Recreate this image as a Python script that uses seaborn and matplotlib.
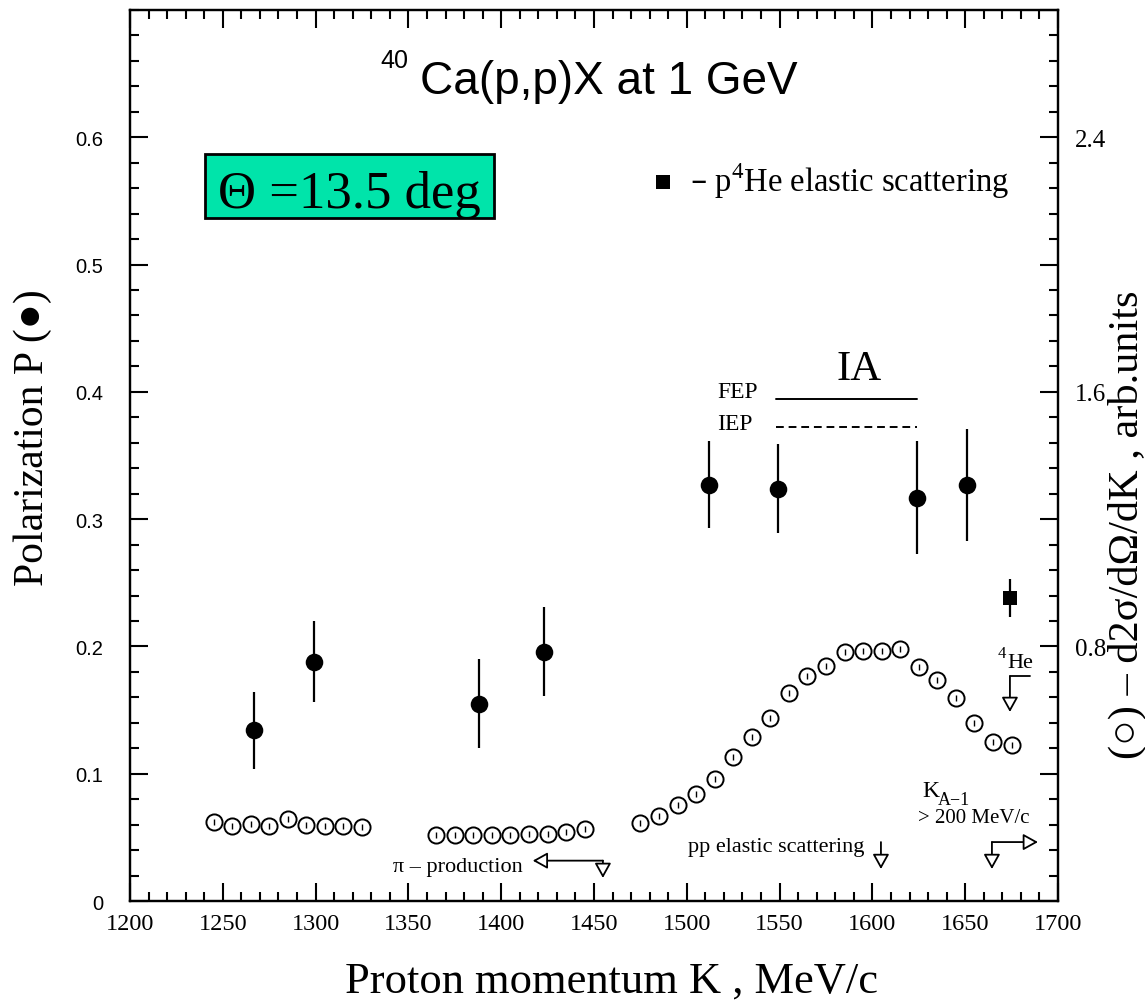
import matplotlib
matplotlib.use("Agg")
import matplotlib.pyplot as plt
import pandas as pd
import seaborn as sns
from matplotlib.ticker import MultipleLocator, FixedLocator, FuncFormatter
from matplotlib.patches import Rectangle

# ---- polarization P (filled circles, left axis) ----
pol_k = [1267, 1299, 1388, 1423, 1512, 1549, 1624, 1651]
pol = [0.134, 0.188, 0.155, 0.196, 0.327, 0.324, 0.317, 0.327]
pol_err = [0.030, 0.032, 0.035, 0.035, 0.034, 0.035, 0.044, 0.044]

# ---- p-4He elastic scattering point (filled square) ----
he_k = [1674]
he_pol = [0.238]
he_err = [0.015]

# ---- cross section d2sigma/dOmega/dK (open circles, right axis) ----
xs_k = [1245, 1255, 1265, 1275, 1285, 1295, 1305, 1315, 1325,
        1365, 1375, 1385, 1395, 1405, 1415, 1425, 1435, 1445,
        1475, 1485, 1495, 1505, 1515, 1525, 1535, 1545, 1555, 1565,
        1575, 1585, 1595, 1605, 1615, 1625, 1635, 1645, 1655, 1665, 1675]
xs = [0.247, 0.237, 0.242, 0.237, 0.258, 0.239, 0.237, 0.235, 0.232,
      0.207, 0.207, 0.207, 0.207, 0.207, 0.210, 0.210, 0.216, 0.226,
      0.245, 0.268, 0.302, 0.336, 0.383, 0.452, 0.514, 0.574, 0.653, 0.708,
      0.739, 0.783, 0.786, 0.786, 0.792, 0.734, 0.695, 0.638, 0.558, 0.499, 0.491]

# ---- IA band (FEP / IEP) ----
ia_range = [1548, 1624]
fep_level = 0.394
iep_level = 0.372

x_ticks = [1200, 1250, 1300, 1350, 1400, 1450, 1500, 1550, 1600, 1650, 1700]
y_ticks = [0, 0.1, 0.2, 0.3, 0.4, 0.5, 0.6]
y2_labels = [0.8, 1.6, 2.4]

sns.set_theme(style="ticks")
plt.rcParams["font.family"] = ["Liberation Serif", "DejaVu Serif"]
plt.rcParams["axes.linewidth"] = 1.6
for key in ("text.color", "axes.labelcolor", "xtick.color", "ytick.color", "axes.edgecolor"):
    plt.rcParams[key] = "black"

W, H = 1145, 1003
fig = plt.figure(figsize=(W / 100, H / 100), dpi=100)
ax = fig.add_axes([130 / W, 1 - 902 / H, 928 / W, 891 / H])
ax2 = ax.twinx()

ax.set_xlim(1200, 1700)
ax.set_ylim(0, 0.7)
ax2.set_ylim(0, 2.8)

# ticks
ax.xaxis.set_major_locator(FixedLocator(x_ticks))
ax.xaxis.set_minor_locator(MultipleLocator(10))
ax.yaxis.set_major_locator(FixedLocator(y_ticks))
ax.yaxis.set_minor_locator(MultipleLocator(0.02))
ax.yaxis.set_major_formatter(FuncFormatter(lambda v, p: "0" if abs(v) < 1e-9 else f"{v:.1f}"))
ax.xaxis.set_major_formatter(FuncFormatter(lambda v, p: f"{int(round(v))}"))
ax.tick_params(axis="both", which="major", direction="in", length=13, width=1.5,
               top=True, right=False, color="black", labelcolor="black")
ax.tick_params(axis="both", which="minor", direction="in", length=6.5, width=1.5,
               top=True, right=False, color="black")
ax.tick_params(axis="y", which="major", pad=19)
ax.tick_params(axis="x", which="major", pad=9)
for lab in ax.get_yticklabels():
    lab.set_fontfamily("Liberation Sans")
    lab.set_fontsize(14.5)
for lab in ax.get_xticklabels():
    lab.set_fontfamily("Liberation Serif")
    lab.set_fontsize(17.5)

ax2.yaxis.set_major_locator(MultipleLocator(0.4))
ax2.yaxis.set_minor_locator(MultipleLocator(0.08))
ax2.yaxis.set_major_formatter(FuncFormatter(
    lambda v, p: f"{v:.1f}" if any(abs(v - t) < 1e-6 for t in y2_labels) else ""))
ax2.tick_params(axis="y", which="major", direction="in", length=13, width=1.5, pad=12,
                labelsize=18, color="black", labelcolor="black")
ax2.tick_params(axis="y", which="minor", direction="in", length=6.5, width=1.5, color="black")

for a in (ax, ax2):
    for s in a.spines.values():
        s.set_visible(True)
        s.set_color("black")
        s.set_linewidth(1.6)

# ---- data ----
df_pol = pd.DataFrame({"K": pol_k, "P": pol})
df_he = pd.DataFrame({"K": he_k, "P": he_pol})
df_xs = pd.DataFrame({"K": xs_k, "S": xs})

ax.errorbar(pol_k, pol, yerr=pol_err, fmt="none", ecolor="black", elinewidth=1.6, capsize=0, zorder=3)
sns.scatterplot(data=df_pol, x="K", y="P", ax=ax, color="black", marker="o", s=160,
                linewidth=0, legend=False, zorder=4)
ax.errorbar(he_k, he_pol, yerr=he_err, fmt="none", ecolor="black", elinewidth=1.6, capsize=0, zorder=3)
sns.scatterplot(data=df_he, x="K", y="P", ax=ax, color="black", marker="s", s=110,
                linewidth=0, legend=False, zorder=4)

sns.scatterplot(data=df_xs, x="K", y="S", ax=ax2, marker="o", s=135, facecolor="white",
                edgecolor="black", linewidth=1.4, legend=False, zorder=4)
ax2.scatter(xs_k, xs, marker="|", s=14, color="black", linewidths=1.0, zorder=5)

ax.set_xlabel("")
ax.set_ylabel("")
ax2.set_ylabel("")

# IA lines
ax.plot(ia_range, [fep_level, fep_level], color="black", lw=1.4, zorder=3)
ax.plot(ia_range, [iep_level, iep_level], color="black", lw=1.4, ls=(0, (4, 2.5)), zorder=3)
ax.text(1580.9, 0.410, "IA", fontsize=31, ha="left", va="baseline")
ax.text(1516.3, 0.396, "FEP", fontsize=17, ha="left", va="baseline")
ax.text(1516.3, 0.371, "IEP", fontsize=17, ha="left", va="baseline")

# title
ax.text(1356.3, 0.6347, "Ca(p,p)X at 1 GeV", fontsize=33, family="Liberation Sans",
        ha="left", va="baseline")
ax.text(1335.0, 0.655, "40", fontsize=18, family="Liberation Sans", ha="left", va="baseline")

# angle box
ax.add_patch(Rectangle((1240.4, 0.5365), 1396.1 - 1240.4, 0.5868 - 0.5365,
                       facecolor="#00E4AA", edgecolor="black", lw=2, zorder=5))
ax.text(1318.3, 0.5452, "\u0398 =13.5 deg", fontsize=38, ha="center", va="baseline", zorder=6)

# legend entry
ax.scatter([1487.2], [0.5648], marker="s", s=110, color="black", linewidths=0, zorder=4)
ax.text(1501.7, 0.5577, "\u2013 p$^{\\mathregular{4}}$He elastic scattering", fontsize=23.5,
        ha="left", va="baseline")

# markers of kinematic limits
arrow = dict(arrowstyle="-|>,head_length=0.45,head_width=0.25", mutation_scale=20,
             fc="white", ec="black", lw=1.3, shrinkA=0, shrinkB=0)

ax.text(1341.7, 0.0236, "\u03c0 \u2013 production", fontsize=16, ha="left", va="baseline")
ax.annotate("", xy=(1417.0, 0.0317), xytext=(1454.8, 0.0317), arrowprops=arrow)
ax.annotate("", xy=(1454.8, 0.0181), xytext=(1454.8, 0.0317), arrowprops=arrow)

ax.text(1500.6, 0.0393, "pp elastic scattering", fontsize=16, ha="left", va="baseline")
ax.annotate("", xy=(1604.6, 0.0251), xytext=(1604.6, 0.0463), arrowprops=arrow)

ax.text(1667.7, 0.1917, "4", fontsize=12, ha="left", va="baseline")
ax.text(1672.5, 0.1838, "He", fontsize=16, ha="left", va="baseline")
ax.plot([1684.9, 1674.1], [0.1767, 0.1767], color="black", lw=1.3)
ax.annotate("", xy=(1674.1, 0.1485), xytext=(1674.1, 0.1767), arrowprops=arrow)

ax.text(1626.7, 0.0825, "K", fontsize=17, ha="left", va="baseline")
ax.text(1635.3, 0.0762, "A\u22121", fontsize=13, ha="left", va="baseline")
ax.text(1624.6, 0.062, "> 200 MeV/c", fontsize=15, ha="left", va="baseline")
ax.annotate("", xy=(1664.4, 0.0251), xytext=(1664.4, 0.0463), arrowprops=arrow)
ax.annotate("", xy=(1689.2, 0.0463), xytext=(1664.4, 0.0463), arrowprops=arrow)

# axis titles
fig.text(611.5 / W, 1 - 993 / H, "Proton momentum K , MeV/c", fontsize=32,
         ha="center", va="baseline")
fig.text(33 / W, 1 - 438 / H, "Polarization P (\u25cf)", fontsize=30, rotation=90,
         ha="center", va="center")
fig.text(1127 / W, 1 - 525 / H, "(\u25cb) \u2013 d2\u03c3/d\u03a9/dK , arb.units", fontsize=30.5,
         rotation=90, ha="center", va="center")

fig.savefig("out.png", dpi=100, facecolor="white")
